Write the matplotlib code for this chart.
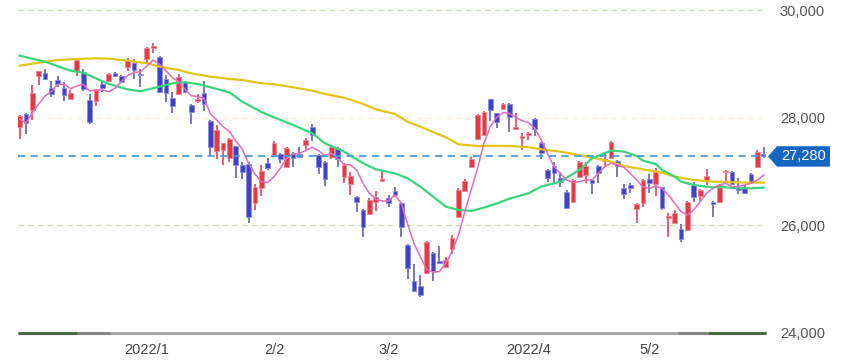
import matplotlib
matplotlib.use('Agg')
import matplotlib.pyplot as plt
import matplotlib.transforms as mtransforms
from matplotlib.patches import Polygon
import numpy as np

plt.rcParams['font.family'] = ['Liberation Sans', 'DejaVu Sans']

# daily candles, 2021/12/3 .. 2022/5/31
opens = [27834, 28069, 28143, 28781, 28830, 28545, 28700, 28558, 28347, 28867,
         28849, 28329, 28310, 28620, 28688, 28836, 28781, 28948, 29010, 28812,
         29090, 29288, 29133, 28712, 28372, 28440, 28657, 28242, 28316, 28453,
         27939, 27388, 27400, 27258, 27475, 27116, 27140, 26422, 26688, 27165,
         27289, 27326, 27091, 27326, 27326, 27487, 27821, 27307, 27184, 27276,
         27431, 26893, 26769, 26521, 26286, 26205, 26441, 26825, 26503, 26633,
         26422, 25636, 24974, 24875, 25110, 25494, 25339, 25221, 25562, 26162,
         26639, 27091, 27604, 27679, 28341, 28081, 28162, 28254, 27796, 27617,
         27679, 27970, 27536, 27029, 27103, 26886, 26614, 26428, 26905, 26930,
         26843, 27103, 27196, 27258, 27196, 26688, 26750, 26305, 26422, 26855,
         26769, 26707, 26144, 26038, 25933, 25915, 26750, 26552, 26831, 26441,
         26441, 26985, 26998, 26701, 26719, 26948, 27078, 27320]
highs = [28050, 28081, 28607, 28874, 28898, 28688, 28781, 28657, 28514, 29084,
         28898, 28434, 28527, 28669, 28824, 28855, 28793, 29109, 29096, 28898,
         29319, 29381, 29146, 28793, 28471, 28805, 28688, 28254, 28434, 28682,
         27957, 27865, 27536, 27617, 27481, 27177, 27177, 26769, 27122, 27258,
         27567, 27351, 27462, 27369, 27462, 27617, 27877, 27326, 27196, 27493,
         27450, 27153, 27000, 26546, 26298, 26503, 26639, 27029, 26565, 26707,
         26441, 25649, 25277, 25079, 25710, 25506, 25618, 25419, 25822, 26689,
         26855, 27276, 28063, 28124, 28353, 28094, 28267, 28267, 28094, 27710,
         27741, 27988, 27548, 27041, 27184, 27000, 26657, 26862, 27196, 27184,
         26855, 27122, 27369, 27573, 27215, 26763, 26781, 26410, 26855, 26955,
         27060, 26719, 26236, 26286, 26020, 26459, 26812, 26670, 27041, 26453,
         26769, 27029, 27010, 26874, 26750, 26979, 27400, 27462]
lows = [27598, 27697, 27957, 28607, 28700, 28391, 28564, 28310, 28329, 28781,
        28502, 27883, 28217, 28471, 28669, 28762, 28638, 28873, 28725, 28576,
        28991, 29208, 28465, 28298, 28093, 28422, 28453, 27883, 28267, 28131,
        27307, 27227, 27122, 27184, 26886, 26855, 26051, 26286, 26546, 27029,
        27276, 27165, 27078, 27091, 27264, 27400, 27574, 26955, 26732, 27227,
        27091, 26794, 26565, 26255, 25791, 26193, 26267, 26812, 26336, 26534,
        25778, 24998, 24770, 24677, 25098, 24974, 25296, 25209, 25469, 26150,
        26627, 27078, 27586, 27660, 27945, 27815, 28143, 27735, 27772, 27400,
        27586, 27660, 27227, 26800, 26769, 26719, 26305, 26416, 26893, 26781,
        26577, 26781, 27091, 27245, 26905, 26484, 26596, 26051, 26348, 26608,
        26546, 26286, 25778, 26026, 25698, 25902, 26441, 26441, 26750, 26150,
        26422, 26812, 26744, 26583, 26583, 26769, 27066, 27252]
closes = [28032, 27908, 28453, 28861, 28719, 28434, 28626, 28422, 28453, 29072,
          28539, 27926, 28514, 28545, 28805, 28774, 28663, 29072, 28886, 28787,
          29301, 29338, 28477, 28465, 28217, 28762, 28477, 28112, 28341, 28254,
          27462, 27772, 27524, 27598, 27122, 26998, 26162, 26719, 27010, 27072,
          27536, 27233, 27444, 27245, 27276, 27586, 27679, 27078, 26855, 27450,
          27227, 27122, 26917, 26441, 25964, 26472, 26521, 26843, 26410, 26565,
          25976, 25215, 24782, 24701, 25692, 25159, 25308, 25357, 25760, 26657,
          26831, 27233, 28044, 28112, 28143, 27926, 28254, 28007, 27821, 27666,
          27722, 27784, 27338, 26886, 26979, 26812, 26329, 26843, 27171, 27103,
          26793, 26967, 27227, 27555, 27103, 26583, 26688, 26391, 26843, 26793,
          26998, 26317, 26175, 26224, 25747, 26428, 26534, 26657, 26917, 26397,
          26750, 27010, 26763, 26657, 26596, 26800, 27369, 27280]

# short moving average (one value per candle)
ma_short = [27970, 27908, 28081, 28254, 28403, 28483, 28620, 28620, 28539, 28589,
            28620, 28496, 28514, 28514, 28483, 28545, 28669, 28781, 28842, 28849,
            28960, 29072, 28991, 28873, 28743, 28669, 28527, 28409, 28391, 28360,
            28069, 27957, 27834, 27741, 27567, 27419, 27153, 26955, 26812, 26794,
            26905, 27060, 27245, 27326, 27338, 27388, 27450, 27388, 27295, 27338,
            27245, 27134, 27122, 27029, 26781, 26595, 26484, 26453, 26453, 26565,
            26410, 26026, 25667, 25419, 25184, 25128, 25141, 25296, 25512, 25822,
            26255, 26657, 27060, 27524, 27834, 28007, 28094, 28081, 28007, 27945,
            27908, 27802, 27586, 27338, 27091, 26967, 26843, 26794, 26812, 26843,
            26843, 26967, 27091, 27153, 27122, 27078, 26967, 26843, 26719, 26688,
            26732, 26688, 26565, 26410, 26255, 26193, 26286, 26441, 26595, 26688,
            26750, 26781, 26719, 26719, 26750, 26781, 26843, 26936]

# medium moving average, read at some candles
ma_mid_idx = [0, 4, 8, 10, 12, 14, 17, 19, 22, 24, 26, 28, 30, 33, 35, 38, 40, 43,
              46, 48, 51, 54, 56, 59, 61, 63, 65, 67, 69, 71, 73, 75, 77, 80, 82,
              85, 88, 90, 92, 93, 95, 97, 98, 100, 101, 103, 104, 106, 108, 109,
              111, 113, 115, 117]
ma_mid = [29152, 29040, 28873, 28836, 28731, 28626, 28527, 28490, 28576, 28638,
          28657, 28626, 28564, 28471, 28298, 28106, 28007, 27865, 27710, 27524,
          27369, 27153, 27041, 26967, 26874, 26719, 26534, 26348, 26286, 26267,
          26330, 26405, 26495, 26595, 26719, 26812, 27029, 27245, 27338, 27388,
          27369, 27289, 27202, 27140, 27029, 26905, 26812, 26750, 26719, 26707,
          26707, 26688, 26688, 26701]

# long moving average, read at some candles
ma_long_idx = [0, 4, 6, 9, 12, 14, 17, 20, 22, 25, 27, 30, 33, 35, 38, 40, 43, 46,
               48, 51, 54, 56, 59, 61, 64, 67, 69, 72, 75, 77, 80, 82, 85, 88, 90,
               93, 95, 98, 101, 103, 106, 109, 111, 114, 117]
ma_long = [28966, 29040, 29071, 29090, 29102, 29096, 29059, 29010, 28948, 28886,
           28824, 28762, 28719, 28700, 28640, 28620, 28564, 28502, 28440, 28372,
           28254, 28155, 28069, 27926, 27784, 27635, 27506, 27475, 27475, 27475,
           27450, 27413, 27369, 27307, 27258, 27183, 27103, 27041, 26979, 26905,
           26843, 26812, 26806, 26794, 26794]

tick_idx = [20, 40, 58, 80, 99]
tick_labels = ['2022/1', '2/2', '3/2', '2022/4', '5/2']
y_ticks = [24000, 26000, 28000, 30000]

W, H = 843, 361
fig = plt.figure(figsize=(W / 100, H / 100), dpi=100)
ax = fig.add_axes([18 / W, (H - 333) / H, (766 - 18) / W, 333 / H])
ax.set_xlim(-0.25, 117.35)
ax.set_ylim(24000, 30186)

o = np.array(opens)
c = np.array(closes)
hi = np.array(highs)
lo = np.array(lows)
x = np.arange(len(o))
up = c >= o

body_col = np.where(up, '#e23b45', '#4141c2')
edge_col = np.where(up, '#f08a98', '#8a8ae6')
wick_col = np.where(up, '#e0506e', '#6c6cb4')

# grid lines
ax.axhline(30000, color='#c2e2b8', ls=(0, (4, 3)), lw=1, zorder=0)
ax.axhline(28000, color='#fbf0d6', ls=(0, (4, 3)), lw=1, zorder=0)
ax.axhline(26000, color='#d4dcbd', ls=(0, (4, 3)), lw=1, zorder=0)

ax.vlines(x, lo, hi, colors=wick_col, lw=1.3, zorder=2)
body_h = np.maximum(np.abs(c - o), 30)
ax.bar(x, body_h, bottom=np.minimum(o, c), width=0.74, color=body_col,
       edgecolor=edge_col, lw=0.6, zorder=3)

ax.plot(ma_long_idx, ma_long, color='#e2c417', lw=1.6, zorder=4)
ax.plot(ma_mid_idx, ma_mid, color='#3bd47d', lw=1.6, zorder=4)
ax.plot(x, ma_short, color='#e36cbd', lw=1.1, zorder=5)

# last price line and label
last = closes[-1]
ax.axhline(last, color='#4f9bd6', ls=(0, (4, 3)), lw=1.3, zorder=6)
tr = mtransforms.blended_transform_factory(ax.transAxes, ax.transData)
hh = 190
box = Polygon([(1.0027, last), (1.0147, last + hh), (1.0856, last + hh),
               (1.0856, last - hh), (1.0147, last - hh)],
              closed=True, transform=tr, facecolor='#1566c2', edgecolor='none',
              clip_on=False, zorder=7)
ax.add_patch(box)
ax.text(1.0505, last, f'{last:,}', transform=tr, ha='center', va='center',
        color='white', fontsize=10.5, zorder=8, clip_on=False)

# bottom navigator strip
nav = [(0.0, 1.0, '#a8a8a8'), (0.079, 0.123, '#858585'),
       (0.882, 0.922, '#858585'), (0.0, 0.079, '#4a6947'), (0.922, 1.0, '#4a6947')]
for a, b, col in nav:
    ax.plot([a, b], [0, 0], transform=ax.transAxes, color=col, lw=2.2,
            clip_on=False, solid_capstyle='butt', zorder=6)

ax.set_xticks(tick_idx)
ax.set_xticklabels(tick_labels)
ax.yaxis.tick_right()
ax.set_yticks(y_ticks)
ax.set_yticklabels([f'{v:,}' for v in y_ticks])
ax.tick_params(axis='x', length=0, pad=7, labelsize=10.5, labelcolor='#444444')
ax.tick_params(axis='y', length=0, pad=10, labelsize=10.5, labelcolor='#555555')
for s in ax.spines.values():
    s.set_visible(False)

fig.savefig('out.png', dpi=100)
